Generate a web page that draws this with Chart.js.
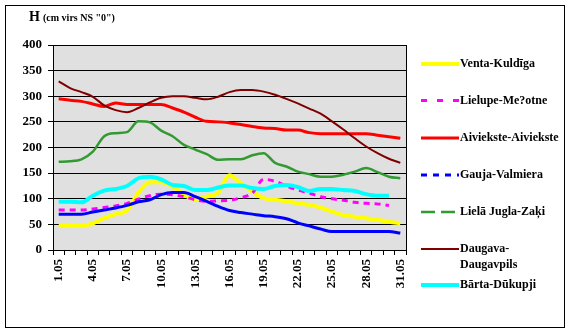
<!DOCTYPE html>
<html>
<head>
<meta charset="utf-8">
<script src="https://cdn.jsdelivr.net/npm/chart.js@4/dist/chart.umd.min.js"></script>
<style>
html,body{margin:0;padding:0;background:#fff;}
#wrap{position:relative;width:572px;height:332px;}
canvas{display:block;}
</style>
</head>
<body>
<div id="wrap"><canvas id="c" width="572" height="332"></canvas></div>
<script>
const categories = ['1.05','2.05','3.05','4.05','5.05','6.05','7.05','8.05','9.05','10.05','11.05','12.05','13.05','14.05','15.05','16.05','17.05','18.05','19.05','20.05','21.05','22.05','23.05','24.05','25.05','26.05','27.05','28.05','29.05','30.05','31.05'];
const yTicks = [0,50,100,150,200,250,300,350,400];
const axisTitleMain = 'H';
const axisTitleSub = '(cm virs NS "0")';

const seriesNames = ['Venta-Kuldīga','Lielupe-Me?otne','Aiviekste-Aiviekste','Gauja-Valmiera','Lielā Jugla-Zaķi','Daugava-Daugavpils','Bārta-Dūkupji'];

const venta = [49,47,47,52,62,70,77,112,132,132,124,108,99,104,112,146,130,114,101,98,95,91,88,83,75,68,65,62,59,55,52];
const lielupe = [78,78,78,80,83,86,91,99,106,109,108,104,98,95,96,97,102,111,138,134,125,117,111,104,100,97,93,91,90,87,null];
const aiviekste = [295,292,290,285,280,287,284,284,284,284,277,269,259,251,250,248,245,241,238,237,234,234,229,227,227,227,227,227,224,221,218];
const gauja = [70,70,70,74,78,82,87,94,98,108,112,112,104,95,85,77,73,70,67,65,61,53,47,41,36,36,36,36,36,36,33];
const jugla = [172,173,177,192,222,228,230,251,249,233,222,205,196,187,176,177,177,185,189,170,163,153,148,143,143,147,153,160,152,143,140];
const daugava = [329,316,308,299,282,273,269,277,288,297,300,300,297,294,299,308,312,312,309,303,295,286,276,266,251,235,218,202,189,178,170];
const barta = [94,94,93,106,116,119,125,140,143,138,127,125,117,117,122,126,126,121,119,125,127,123,115,119,119,117,115,109,106,106,null];

const SERIF = '"Liberation Serif","Times New Roman",serif';

const styles = [
  {color:'#ffff00', width:4, dash:[], legendDash:[]},
  {color:'#ff00ff', width:3, dash:[6,5], legendDash:[6,10]},
  {color:'#ff0000', width:3, dash:[], legendDash:[]},
  {color:'#0000ff', width:3, dash:[], legendDash:[6,6]},
  {color:'#339933', width:2.5, dash:[], legendDash:[14,6]},
  {color:'#800000', width:2, dash:[], legendDash:[]},
  {color:'#00ffff', width:4, dash:[], legendDash:[]}
];
const seriesData = [venta, lielupe, aiviekste, gauja, jugla, daugava, barta];
const legendY = [64, 100.5, 138, 175, 212, 249, 285];

const datasets = seriesData.map((d,i)=>({
  label: seriesNames[i],
  data: d,
  borderColor: styles[i].color,
  backgroundColor: styles[i].color,
  borderWidth: styles[i].width,
  borderDash: styles[i].dash,
  pointRadius: 0,
  cubicInterpolationMode: 'monotone',
  fill: false,
  spanGaps: false,
  order: seriesData.length - i
}));

const decor = {
  id:'decor',
  beforeDraw(chart){
    const {ctx, chartArea:a} = chart;
    ctx.save();
    ctx.fillStyle = '#e0e0e0';
    ctx.fillRect(a.left, a.top, a.right-a.left, a.bottom-a.top);
    ctx.restore();
  },
  beforeDatasetsDraw(chart){
    const {ctx, chartArea:a} = chart;
    ctx.save();
    ctx.strokeStyle = '#000';
    ctx.lineWidth = 1;
    ctx.beginPath();
    ctx.moveTo(Math.round(a.right)+0.5, a.top);
    ctx.lineTo(Math.round(a.right)+0.5, a.bottom);
    ctx.stroke();
    ctx.restore();
  },
  afterDraw(chart){
    const {ctx} = chart;
    ctx.save();
    // outer frame
    ctx.strokeStyle = '#000';
    ctx.lineWidth = 1;
    ctx.strokeRect(5.5, 5.5, 559, 322);
    // axis title
    ctx.fillStyle = '#000';
    ctx.textBaseline = 'alphabetic';
    ctx.font = 'bold 14px ' + SERIF;
    ctx.fillText(axisTitleMain, 29, 21);
    ctx.font = 'bold 10px ' + SERIF;
    ctx.fillText(axisTitleSub, 43, 21);
    // legend
    ctx.font = 'bold 12px ' + SERIF;
    ctx.textBaseline = 'middle';
    chart.data.datasets.forEach((ds,i)=>{
      const y = legendY[i];
      ctx.strokeStyle = ds.borderColor;
      ctx.lineWidth = ds.borderWidth;
      ctx.setLineDash(styles[i].legendDash);
      ctx.beginPath();
      ctx.moveTo(421, y);
      ctx.lineTo(459, y);
      ctx.stroke();
      ctx.setLineDash([]);
      ctx.fillStyle = '#000';
      if (ds.label === 'Daugava-Daugavpils') {
        ctx.fillText('Daugava-', 460, y);
        ctx.fillText('Daugavpils', 460, y + 16);
      } else {
        ctx.fillText(ds.label, 460, y);
      }
    });
    ctx.restore();
  }
};

new Chart(document.getElementById('c'), {
  type:'line',
  data:{labels:categories, datasets},
  options:{
    responsive:false,
    animation:false,
    devicePixelRatio:1,
    layout:{padding:{left:0, right:166, top:45, bottom:0}},
    plugins:{legend:{display:false}, tooltip:{enabled:false}, title:{display:false}},
    scales:{
      x:{
        type:'category',
        offset:true,
        grid:{display:true, drawOnChartArea:false, offset:true, tickLength:5, color:'#000', lineWidth:1},
        border:{display:true, color:'#000', width:1},
        ticks:{
          autoSkip:false, minRotation:90, maxRotation:90, padding:4,
          color:'#000', font:{family:SERIF, weight:'bold', size:13},
          callback:(v,i)=> (i%3===0 ? categories[i] : '')
        },
        afterFit(s){ s.height = 82; }
      },
      y:{
        min:0, max:400,
        afterBuildTicks(s){ s.ticks = yTicks.map(v=>({value:v})); },
        grid:{display:true, color:'#000', lineWidth:1, tickLength:5, drawTicks:true},
        border:{display:true, color:'#000', width:1},
        ticks:{color:'#000', padding:6, font:{family:SERIF, weight:'bold', size:13}},
        afterFit(s){ s.width = 53; }
      }
    }
  },
  plugins:[decor]
});
</script>
</body>
</html>
